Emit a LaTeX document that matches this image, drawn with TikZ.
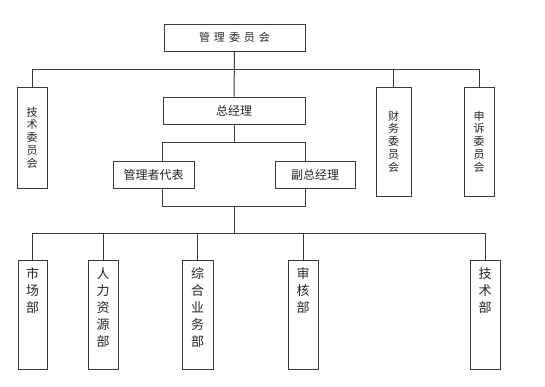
\documentclass[tikz,border=0pt]{standalone}
\usepackage{fontspec}
\setmainfont{Noto Sans CJK SC}
\usetikzlibrary{positioning,backgrounds}
\definecolor{Edge}{HTML}{3A3A3A}
\definecolor{Ink}{HTML}{262626}
\tikzset{hbox/.style={draw=Edge,fill=white,line width=1pt,minimum height=27pt,inner sep=0pt,text=Ink,font=\fontsize{12}{14}\selectfont},committee/.style={draw=Edge,fill=white,line width=1pt,minimum width=30pt,inner sep=0pt,align=center,text=Ink,font=\fontsize{11}{12.8}\selectfont},dept/.style={draw=Edge,fill=white,line width=1pt,minimum width=30pt,minimum height=109pt,inner sep=0pt},deptname/.style={align=center,inner sep=0pt,text=Ink,font=\fontsize{13}{17}\selectfont},wire/.style={draw=Edge,line width=1pt}}

\begin{document}
\begin{tikzpicture}[x=1pt,y=-1pt]
        \useasboundingbox(0,0)rectangle(545,386);
        % top level
        \node[hbox,minimum width=141pt,font=\fontsize{11}{13}\selectfont](gw)at(234.5,37.5){管\hspace{4pt}理\hspace{4pt}委\hspace{4pt}员\hspace{4pt}会};
        \node[hbox,minimum width=142pt](zjl)at(234,110.5){总经理};
        \node[committee,minimum height=101pt](jswy)at(32,137.5){技\\术\\委\\员\\会};
        \node[committee,minimum width=35pt,minimum height=109pt](cwwy)at(393.5,141.5){财\\务\\委\\员\\会};
        \node[committee,minimum height=109pt](sswy)at(479,141.5){申\\诉\\委\\员\\会};
        \node[hbox,minimum width=81pt](glz)at(153.5,174.5){管理者代表};
        \node[hbox,minimum width=80pt](fzjl)at(315,174.5){副总经理};
        % departments
        \node[dept,minimum width=29pt](scb)at(32.5,314.5){};
        \node[dept](rlb)at(103,314.5){};
        \node[dept,minimum width=31pt](zhb)at(197.5,314.5){};
        \node[dept](shb)at(303,314.5){};
        \node[dept](jsb)at(485,314.5){};
        \node[deptname,below=8pt of scb.north]{市\\场\\部};
        \node[deptname,below=8pt of rlb.north]{人\\力\\资\\源\\部};
        \node[deptname,below=8pt of zhb.north]{综\\合\\业\\务\\部};
        \node[deptname,below=8pt of shb.north]{审\\核\\部};
        \node[deptname,below=8pt of jsb.north]{技\\术\\部};
        \coordinate(bus1)at(234,69.5);
        \coordinate(brtop)at(234,142);
        \coordinate(brbot)at(234,206);
        \coordinate(bus2)at(234,233);
        \begin{scope}[on background layer]
          \draw[wire](gw.south)--(zjl.north);
          \draw[wire](jswy.north)|-(bus1-|sswy.north)--(sswy.north);
          \draw[wire](bus1-|cwwy.north)--(cwwy.north);
          \draw[wire](zjl.south)--(brtop);
          \draw[wire](brtop-|zjl.west)rectangle(brbot-|zjl.east);
          \draw[wire](brbot)--(bus2);
          \draw[wire](scb.north)|-(bus2-|jsb.north)--(jsb.north);
          \foreach \d in {rlb,zhb,shb}
            \draw[wire](bus2-|\d.north)--(\d.north);
        \end{scope}
      \end{tikzpicture}
\end{document}
